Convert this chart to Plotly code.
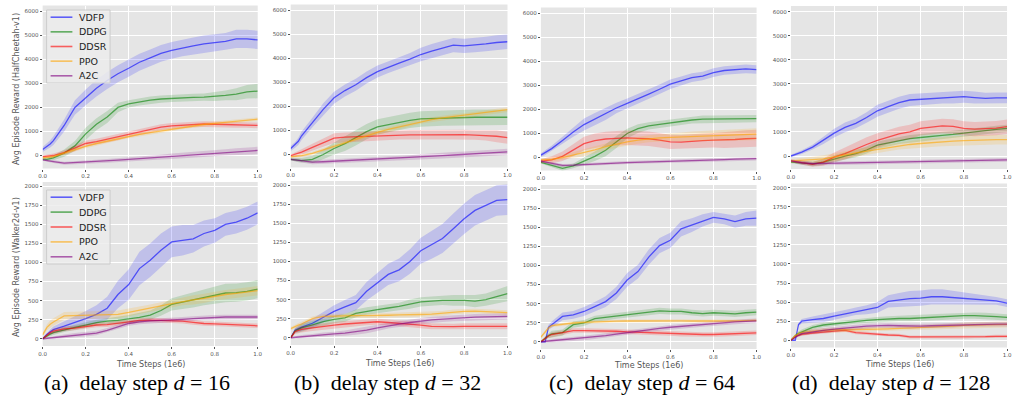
import plotly.graph_objects as go

W, H = 1016, 397

# ---------------- data ----------------
T = [0, .02, .035, .05, .1, .15, .2, .25, .3, .35, .4, .45, .5, .55, .6, .65, .7, .75, .8, .85, .9, .95, 1.0]
X_TICKS = [0, 0.2, 0.4, 0.6, 0.8, 1.0]
X_TICK_TEXT = ["0.0", "0.2", "0.4", "0.6", "0.8", "1.0"]
HC_TICKS = [0, 1000, 2000, 3000, 4000, 5000, 6000]
WK_TICKS = [0, 250, 500, 750, 1000, 1250, 1500, 1750, 2000]
METHODS = ["VDFP", "DDPG", "DDSR", "PPO", "A2C"]
NB = "\u00a0"
CAPTIONS = [f"(a){NB}{NB}delay step <i>d</i>{NB}={NB}16", f"(b){NB}{NB}delay step <i>d</i>{NB}={NB}32",
            f"(c){NB}{NB}delay step <i>d</i>{NB}={NB}64", f"(d){NB}{NB}delay step <i>d</i>{NB}={NB}128"]

# HalfCheetah, d = 16
HC16_VDFP = [250, 380, 480, 620, 1250, 2000, 2420, 2800, 3120, 3400, 3630, 3880, 4060, 4250, 4370, 4480, 4560, 4640, 4680, 4750, 4850, 4850, 4810]
HC16_VDFP_SD = [100, 120, 150, 180, 250, 300, 330, 350, 350, 350, 350, 350, 350, 350, 350, 350, 350, 350, 350, 350, 380, 380, 380]
HC16_DDPG = [-150, -160, -130, -100, 100, 400, 900, 1300, 1600, 2000, 2150, 2230, 2300, 2350, 2380, 2400, 2420, 2430, 2450, 2500, 2550, 2650, 2680]
HC16_DDPG_SD = [50, 60, 80, 100, 150, 200, 250, 250, 250, 200, 150, 150, 150, 150, 150, 150, 150, 150, 180, 200, 250, 280, 300]
HC16_DDSR = [-50, -40, -20, 0, 120, 300, 500, 580, 680, 750, 880, 980, 1060, 1180, 1230, 1260, 1300, 1310, 1300, 1290, 1270, 1280, 1250]
HC16_DDSR_SD = [50, 60, 70, 80, 100, 120, 120, 120, 120, 120, 120, 120, 120, 120, 120, 120, 120, 120, 120, 120, 120, 120, 120]
HC16_PPO = [-100, -80, -60, -50, 100, 250, 380, 500, 600, 700, 800, 880, 950, 1020, 1100, 1170, 1240, 1290, 1340, 1380, 1430, 1480, 1510]
HC16_PPO_SD = [40, 50, 60, 60, 70, 80, 80, 80, 80, 80, 80, 80, 80, 80, 80, 80, 80, 80, 80, 80, 80, 80, 80]
HC16_A2C = [-180, -200, -230, -250, -320, -300, -270, -250, -220, -190, -160, -130, -100, -70, -30, 0, 30, 70, 100, 130, 160, 190, 210]
HC16_A2C_SD = [40, 50, 50, 60, 60, 60, 70, 70, 80, 80, 90, 90, 100, 100, 110, 110, 120, 120, 130, 130, 140, 140, 150]

# HalfCheetah, d = 32
HC32_VDFP = [250, 400, 550, 780, 1330, 1880, 2360, 2660, 2900, 3200, 3450, 3640, 3800, 3970, 4160, 4300, 4440, 4550, 4520, 4550, 4600, 4660, 4690]
HC32_VDFP_SD = [100, 120, 150, 180, 200, 250, 250, 250, 250, 250, 250, 250, 250, 250, 280, 300, 300, 300, 300, 300, 300, 300, 300]
HC32_DDPG = [-200, -220, -240, -250, -200, 0, 250, 450, 700, 950, 1150, 1250, 1350, 1420, 1480, 1500, 1520, 1540, 1550, 1550, 1550, 1550, 1550]
HC32_DDPG_SD = [50, 60, 80, 100, 150, 200, 250, 300, 320, 320, 320, 320, 320, 320, 320, 320, 320, 320, 320, 320, 320, 320, 320]
HC32_DDSR = [-50, 0, 50, 100, 300, 500, 680, 720, 740, 760, 780, 800, 820, 820, 820, 830, 820, 820, 830, 810, 800, 760, 700]
HC32_DDSR_SD = [50, 80, 100, 120, 150, 180, 200, 200, 200, 200, 200, 200, 200, 200, 200, 200, 200, 200, 200, 200, 220, 250, 250]
HC32_PPO = [-100, -80, -60, -50, 50, 200, 350, 500, 650, 800, 920, 1050, 1150, 1270, 1380, 1450, 1520, 1580, 1620, 1680, 1740, 1800, 1870]
HC32_PPO_SD = [40, 50, 60, 60, 70, 80, 100, 100, 100, 100, 100, 100, 100, 100, 100, 100, 100, 100, 100, 100, 100, 100, 100]
HC32_A2C = [-200, -220, -240, -260, -320, -300, -280, -260, -240, -220, -200, -180, -160, -130, -100, -80, -50, -20, 10, 30, 60, 80, 110]
HC32_A2C_SD = [50, 60, 60, 70, 80, 80, 80, 80, 90, 90, 90, 100, 100, 100, 110, 110, 120, 120, 120, 130, 130, 130, 130]

# HalfCheetah, d = 64
HC64_VDFP = [100, 200, 280, 370, 710, 1060, 1370, 1600, 1810, 2060, 2250, 2430, 2640, 2840, 3050, 3190, 3320, 3390, 3530, 3620, 3640, 3690, 3660]
HC64_VDFP_SD = [80, 100, 110, 120, 150, 200, 250, 250, 250, 220, 200, 200, 200, 200, 200, 180, 180, 180, 180, 180, 180, 180, 180]
HC64_DDPG = [-200, -250, -280, -300, -450, -350, -150, 50, 300, 650, 1000, 1200, 1320, 1380, 1450, 1500, 1560, 1600, 1600, 1610, 1600, 1610, 1620]
HC64_DDPG_SD = [50, 60, 80, 80, 100, 100, 150, 200, 250, 250, 200, 180, 150, 150, 150, 150, 150, 150, 150, 150, 150, 150, 150]
HC64_DDSR = [-150, -130, -110, -100, 50, 300, 580, 700, 770, 800, 820, 800, 780, 720, 650, 640, 680, 700, 720, 720, 750, 780, 800]
HC64_DDSR_SD = [80, 100, 120, 150, 200, 250, 280, 300, 300, 300, 300, 300, 300, 300, 300, 300, 300, 300, 300, 320, 340, 350, 350]
HC64_PPO = [-100, -90, -85, -80, 0, 100, 200, 320, 450, 560, 650, 720, 780, 820, 840, 860, 880, 900, 920, 940, 950, 960, 970]
HC64_PPO_SD = [60, 70, 80, 90, 100, 120, 150, 150, 150, 150, 150, 150, 150, 150, 150, 180, 200, 200, 220, 230, 240, 250, 250]
HC64_A2C = [-150, -190, -220, -250, -330, -320, -290, -270, -250, -230, -210, -200, -180, -170, -150, -140, -120, -110, -100, -90, -70, -60, -50]
HC64_A2C_SD = [40, 50, 50, 60, 60, 60, 60, 60, 60, 60, 60, 60, 70, 70, 70, 70, 70, 70, 70, 70, 70, 70, 70]

# HalfCheetah, d = 128
HC128_VDFP = [0, 60, 110, 160, 370, 650, 950, 1190, 1360, 1600, 1880, 2050, 2220, 2330, 2360, 2400, 2430, 2430, 2470, 2430, 2400, 2420, 2420]
HC128_VDFP_SD = [50, 60, 70, 80, 100, 150, 180, 200, 200, 220, 250, 250, 250, 250, 250, 250, 250, 250, 250, 250, 230, 220, 220]
HC128_DDPG = [-250, -270, -290, -300, -330, -250, -120, 0, 100, 250, 450, 550, 650, 720, 770, 830, 860, 900, 960, 1010, 1060, 1110, 1150]
HC128_DDPG_SD = [50, 60, 70, 80, 100, 120, 150, 150, 150, 150, 150, 150, 150, 150, 150, 150, 150, 150, 150, 150, 150, 150, 150]
HC128_DDSR = [-200, -230, -260, -280, -350, -250, -50, 100, 300, 480, 650, 800, 920, 1000, 1150, 1200, 1250, 1230, 1150, 1120, 1140, 1160, 1220]
HC128_DDSR_SD = [50, 60, 70, 80, 100, 150, 200, 250, 280, 300, 300, 300, 300, 300, 300, 300, 300, 300, 300, 300, 300, 300, 300]
HC128_PPO = [-200, -195, -190, -180, -150, -120, -50, 50, 130, 200, 280, 350, 420, 480, 520, 560, 600, 620, 640, 660, 670, 680, 680]
HC128_PPO_SD = [80, 90, 100, 100, 120, 150, 150, 150, 150, 150, 150, 150, 150, 150, 170, 180, 190, 200, 200, 200, 200, 200, 200]
HC128_A2C = [-200, -230, -260, -280, -320, -310, -300, -290, -280, -270, -260, -250, -240, -230, -220, -210, -200, -195, -190, -180, -175, -170, -160]
HC128_A2C_SD = [50, 60, 60, 70, 70, 70, 70, 70, 70, 70, 70, 70, 70, 70, 80, 80, 80, 80, 80, 80, 80, 80, 80]

# Walker2d, d = 16
WK16_VDFP = [0, 60, 90, 120, 165, 210, 265, 320, 400, 580, 710, 920, 1030, 1160, 1270, 1290, 1310, 1380, 1420, 1500, 1530, 1580, 1650]
WK16_VDFP_SD = [10, 20, 30, 40, 60, 80, 100, 120, 150, 180, 200, 220, 220, 220, 200, 200, 180, 170, 160, 150, 150, 150, 150]
WK16_DDPG = [0, 40, 60, 80, 120, 150, 180, 210, 230, 240, 260, 280, 310, 370, 450, 480, 510, 540, 570, 600, 605, 620, 650]
WK16_DDPG_SD = [10, 20, 20, 30, 30, 30, 40, 40, 40, 50, 50, 60, 60, 70, 80, 90, 100, 100, 110, 120, 120, 120, 120]
WK16_DDSR = [0, 50, 80, 100, 130, 140, 160, 180, 185, 200, 220, 240, 245, 240, 235, 230, 215, 200, 195, 190, 185, 180, 170]
WK16_DDSR_SD = [10, 20, 25, 30, 30, 30, 30, 30, 30, 30, 30, 30, 30, 30, 30, 30, 30, 30, 30, 30, 30, 30, 30]
WK16_PPO = [50, 150, 190, 220, 300, 305, 310, 315, 315, 320, 345, 370, 400, 430, 460, 490, 510, 530, 560, 580, 595, 615, 630]
WK16_PPO_SD = [20, 40, 50, 50, 50, 50, 50, 50, 50, 50, 50, 50, 50, 50, 50, 50, 60, 60, 60, 60, 60, 60, 60]
WK16_A2C = [0, 6, 10, 15, 30, 45, 60, 75, 110, 160, 200, 220, 235, 240, 245, 255, 265, 275, 280, 285, 285, 285, 285]
WK16_A2C_SD = [5, 10, 15, 20, 25, 30, 30, 30, 30, 30, 30, 30, 30, 30, 30, 30, 30, 30, 30, 30, 30, 30, 30]

# Walker2d, d = 32
WK32_VDFP = [0, 100, 120, 140, 190, 270, 345, 405, 460, 610, 720, 830, 890, 1000, 1140, 1215, 1300, 1430, 1560, 1670, 1730, 1800, 1810]
WK32_VDFP_SD = [10, 30, 40, 50, 60, 70, 80, 90, 100, 120, 130, 140, 150, 160, 170, 180, 190, 200, 200, 200, 200, 200, 200]
WK32_DDPG = [0, 90, 110, 130, 170, 210, 240, 260, 320, 350, 370, 390, 410, 440, 470, 480, 490, 490, 490, 480, 500, 540, 580]
WK32_DDPG_SD = [10, 30, 40, 50, 50, 50, 50, 50, 50, 50, 50, 50, 50, 60, 60, 60, 60, 70, 70, 80, 80, 90, 100]
WK32_DDSR = [0, 80, 95, 110, 130, 150, 165, 180, 190, 205, 210, 200, 190, 180, 165, 150, 145, 145, 150, 150, 150, 150, 150]
WK32_DDSR_SD = [10, 30, 40, 40, 40, 40, 40, 40, 40, 40, 40, 40, 40, 40, 40, 40, 40, 40, 40, 40, 40, 40, 40]
WK32_PPO = [120, 150, 165, 180, 250, 280, 285, 285, 290, 290, 290, 295, 300, 300, 305, 310, 320, 340, 345, 350, 345, 335, 330]
WK32_PPO_SD = [20, 25, 30, 30, 30, 30, 30, 30, 30, 30, 30, 30, 30, 30, 30, 30, 30, 30, 30, 30, 30, 30, 30]
WK32_A2C = [0, 6, 10, 15, 25, 40, 50, 60, 80, 100, 130, 160, 180, 200, 220, 235, 245, 255, 265, 270, 275, 275, 280]
WK32_A2C_SD = [5, 10, 15, 20, 25, 30, 30, 35, 40, 40, 40, 40, 40, 40, 40, 40, 40, 40, 40, 40, 40, 40, 40]

# Walker2d, d = 64
WK64_VDFP = [0, 0, 190, 224, 332, 353, 397, 461, 526, 640, 810, 920, 1110, 1260, 1330, 1480, 1530, 1590, 1630, 1610, 1575, 1610, 1620]
WK64_VDFP_SD = [5, 5, 30, 40, 50, 50, 60, 60, 70, 80, 90, 90, 100, 100, 100, 100, 90, 80, 70, 70, 80, 90, 100]
WK64_DDPG = [0, 50, 80, 103, 120, 224, 246, 302, 319, 340, 353, 375, 388, 405, 397, 397, 380, 370, 380, 375, 366, 380, 388]
WK64_DDPG_SD = [5, 20, 30, 40, 40, 40, 40, 40, 40, 40, 40, 40, 40, 40, 40, 40, 40, 40, 40, 40, 40, 40, 40]
WK64_DDSR = [0, 50, 75, 95, 117, 147, 147, 147, 143, 138, 130, 125, 121, 117, 108, 99, 95, 95, 95, 99, 103, 108, 117]
WK64_DDSR_SD = [5, 20, 25, 30, 30, 30, 30, 30, 30, 30, 30, 30, 30, 30, 30, 30, 30, 30, 30, 30, 30, 30, 30]
WK64_PPO = [60, 130, 180, 211, 233, 246, 255, 262, 267, 270, 272, 274, 276, 276, 276, 274, 272, 270, 267, 268, 272, 276, 280]
WK64_PPO_SD = [20, 20, 20, 20, 20, 20, 20, 20, 20, 20, 20, 20, 20, 20, 20, 20, 20, 20, 20, 20, 20, 20, 20]
WK64_A2C = [0, 5, 10, 15, 25, 38, 50, 65, 80, 100, 120, 140, 160, 175, 190, 203, 215, 228, 240, 250, 260, 268, 275]
WK64_A2C_SD = [5, 10, 15, 20, 25, 30, 30, 30, 30, 30, 30, 30, 30, 30, 30, 30, 30, 30, 30, 30, 30, 30, 30]

# Walker2d, d = 128
WK128_VDFP = [0, 0, 207, 250, 270, 285, 315, 345, 380, 400, 430, 510, 530, 547, 552, 570, 570, 560, 552, 540, 530, 517, 487]
WK128_VDFP_SD = [5, 5, 20, 30, 40, 50, 50, 50, 50, 60, 70, 80, 90, 100, 100, 100, 100, 90, 80, 70, 60, 50, 50]
WK128_DDPG = [0, 60, 90, 110, 170, 200, 215, 230, 250, 260, 270, 280, 285, 285, 293, 300, 306, 310, 323, 323, 320, 310, 300]
WK128_DDPG_SD = [5, 20, 25, 30, 30, 30, 30, 30, 30, 30, 35, 35, 35, 35, 40, 40, 40, 40, 40, 40, 40, 40, 40]
WK128_DDSR = [0, 50, 65, 78, 95, 112, 120, 130, 100, 90, 78, 69, 65, 43, 43, 43, 47, 43, 39, 47, 47, 52, 52]
WK128_DDSR_SD = [5, 15, 20, 20, 20, 20, 20, 20, 20, 20, 20, 20, 20, 20, 20, 20, 20, 20, 20, 20, 20, 20, 20]
WK128_PPO = [0, 60, 85, 100, 120, 130, 138, 138, 138, 142, 147, 150, 155, 160, 164, 172, 177, 185, 194, 198, 203, 207, 207]
WK128_PPO_SD = [10, 20, 30, 30, 30, 30, 30, 30, 30, 30, 30, 30, 30, 30, 30, 30, 35, 35, 40, 40, 40, 40, 40]
WK128_A2C = [0, 40, 65, 86, 112, 130, 147, 155, 172, 185, 194, 194, 190, 185, 185, 190, 194, 198, 207, 211, 211, 211, 211]
WK128_A2C_SD = [5, 15, 20, 25, 30, 30, 30, 30, 30, 30, 30, 30, 30, 30, 30, 30, 30, 30, 30, 30, 30, 30, 30]

PANELS = [
    [(HC16_VDFP, HC16_VDFP_SD), (HC16_DDPG, HC16_DDPG_SD), (HC16_DDSR, HC16_DDSR_SD), (HC16_PPO, HC16_PPO_SD), (HC16_A2C, HC16_A2C_SD)],
    [(HC32_VDFP, HC32_VDFP_SD), (HC32_DDPG, HC32_DDPG_SD), (HC32_DDSR, HC32_DDSR_SD), (HC32_PPO, HC32_PPO_SD), (HC32_A2C, HC32_A2C_SD)],
    [(HC64_VDFP, HC64_VDFP_SD), (HC64_DDPG, HC64_DDPG_SD), (HC64_DDSR, HC64_DDSR_SD), (HC64_PPO, HC64_PPO_SD), (HC64_A2C, HC64_A2C_SD)],
    [(HC128_VDFP, HC128_VDFP_SD), (HC128_DDPG, HC128_DDPG_SD), (HC128_DDSR, HC128_DDSR_SD), (HC128_PPO, HC128_PPO_SD), (HC128_A2C, HC128_A2C_SD)],
    [(WK16_VDFP, WK16_VDFP_SD), (WK16_DDPG, WK16_DDPG_SD), (WK16_DDSR, WK16_DDSR_SD), (WK16_PPO, WK16_PPO_SD), (WK16_A2C, WK16_A2C_SD)],
    [(WK32_VDFP, WK32_VDFP_SD), (WK32_DDPG, WK32_DDPG_SD), (WK32_DDSR, WK32_DDSR_SD), (WK32_PPO, WK32_PPO_SD), (WK32_A2C, WK32_A2C_SD)],
    [(WK64_VDFP, WK64_VDFP_SD), (WK64_DDPG, WK64_DDPG_SD), (WK64_DDSR, WK64_DDSR_SD), (WK64_PPO, WK64_PPO_SD), (WK64_A2C, WK64_A2C_SD)],
    [(WK128_VDFP, WK128_VDFP_SD), (WK128_DDPG, WK128_DDPG_SD), (WK128_DDSR, WK128_DDSR_SD), (WK128_PPO, WK128_PPO_SD), (WK128_A2C, WK128_A2C_SD)],
]

# ---------------- style ----------------
RGB = {"VDFP": (0, 0, 255), "DDPG": (0, 128, 0), "DDSR": (255, 0, 0), "PPO": (255, 165, 0), "A2C": (128, 0, 128)}
LINE_A, BAND_A = 0.6, 0.16
BG = "#E5E5E5"
TICK_C = "#555555"
TICK_FONT = dict(family="DejaVu Sans", size=5.5, color=TICK_C)

X_PX = [(39, 256), (289.3, 508), (541.7, 759.3), (794, 1012)]
ROW_PX = [(5.5, 168.5), (182, 346)]
ROW_SHIFT = [[0, -1, 2, 0.5], [0, -1, 3, 1.5]]
Y_RANGES = [(-540, 6240), (-95, 2055)]
LEGEND_BOX_PX = [(43, 10, 107, 83), (43, 190, 107, 264)]


def px_x(a):
    return a / W


def px_y(a):
    return 1 - a / H


fig = go.Figure()
layout = dict(
    width=W, height=H, margin=dict(l=0, r=0, t=0, b=0),
    paper_bgcolor="white", plot_bgcolor=BG, annotations=[], shapes=[], showlegend=False,
)

for p in range(8):
    row, col = divmod(p, 4)
    idx = p + 1
    xa = "x" if idx == 1 else f"x{idx}"
    ya = "y" if idx == 1 else f"y{idx}"
    xkey = "xaxis" if idx == 1 else f"xaxis{idx}"
    ykey = "yaxis" if idx == 1 else f"yaxis{idx}"
    top, bot = ROW_PX[row]
    sh = ROW_SHIFT[row][col]
    x0, x1 = X_PX[col]
    layout[xkey] = dict(
        domain=[px_x(x0), px_x(x1)], range=[0, 1], anchor=ya,
        tickvals=X_TICKS, ticktext=X_TICK_TEXT, tickfont=TICK_FONT,
        showgrid=True, gridcolor="white", gridwidth=1, zeroline=False, showline=False,
        ticks="outside", ticklen=2, tickwidth=0.8, tickcolor=TICK_C, fixedrange=True,
    )
    yt = HC_TICKS if row == 0 else WK_TICKS
    layout[ykey] = dict(
        domain=[px_y(bot + sh), px_y(top + sh)], range=list(Y_RANGES[row]), anchor=xa,
        tickvals=yt, ticktext=[str(v) for v in yt], tickfont=TICK_FONT,
        showgrid=True, gridcolor="white", gridwidth=1, zeroline=False, showline=False,
        ticks="outside", ticklen=2, tickwidth=0.8, tickcolor=TICK_C, fixedrange=True,
    )
    for (mean, sd), name in zip(PANELS[p], METHODS):
        r, g, b = RGB[name]
        upper = [m + s for m, s in zip(mean, sd)]
        lower = [m - s for m, s in zip(mean, sd)]
        fig.add_trace(go.Scatter(
            x=T + T[::-1], y=upper + lower[::-1], xaxis=xa, yaxis=ya,
            fill="toself", fillcolor=f"rgba({r},{g},{b},{BAND_A})",
            line=dict(width=0), mode="lines", showlegend=False, hoverinfo="skip",
        ))
        fig.add_trace(go.Scatter(
            x=T, y=mean, xaxis=xa, yaxis=ya, mode="lines", name=name,
            line=dict(color=f"rgba({r},{g},{b},{LINE_A})", width=1.3),
            showlegend=False,
        ))

    if row == 1:
        cx = (x0 + x1) / 2
        layout["annotations"].append(dict(
            text="Time Steps (1e6)", x=px_x(cx), y=px_y(364 + sh * 0.5), xref="paper", yref="paper",
            showarrow=False, xanchor="center", yanchor="middle",
            font=dict(family="DejaVu Sans", size=8, color=TICK_C),
        ))

# legends (drawn as boxes with line samples and text labels)
for (lx0, ly0, lx1, ly1) in LEGEND_BOX_PX:
    layout["shapes"].append(dict(
        type="rect", xref="paper", yref="paper", layer="above",
        x0=px_x(lx0), x1=px_x(lx1), y0=px_y(ly1), y1=px_y(ly0),
        fillcolor="rgba(236,236,236,0.85)", line=dict(color="#CCCCCC", width=1),
    ))
    step = (ly1 - ly0 - 14.4) / 4
    for i, name in enumerate(METHODS):
        r, g, b = RGB[name]
        yy = ly0 + 7.2 + i * step
        layout["shapes"].append(dict(
            type="line", xref="paper", yref="paper", layer="above",
            x0=px_x(lx0 + 4), x1=px_x(lx0 + 26), y0=px_y(yy), y1=px_y(yy),
            line=dict(color=f"rgba({r},{g},{b},{LINE_A})", width=1.6),
        ))
        layout["annotations"].append(dict(
            text=name, x=px_x(lx0 + 31), y=px_y(yy), xref="paper", yref="paper",
            showarrow=False, xanchor="left", yanchor="middle",
            font=dict(family="DejaVu Sans", size=9.5, color="#222222"),
        ))

CAP_X = [134, 387, 644, 895]
for cx, cap in zip(CAP_X, CAPTIONS):
    layout["annotations"].append(dict(
        text=cap, x=px_x(cx), y=px_y(382), xref="paper", yref="paper",
        showarrow=False, xanchor="center", yanchor="middle",
        font=dict(family="Liberation Serif", size=22, color="black"),
    ))

for txt, cy in [("Avg Episode Reward (HalfCheetah-v1)", 89), ("Avg Episode Reward (Walker2d-v1)", 267)]:
    layout["annotations"].append(dict(
        text=txt, x=px_x(12), y=px_y(cy), xref="paper", yref="paper", textangle=-90,
        showarrow=False, xanchor="center", yanchor="middle",
        font=dict(family="DejaVu Sans", size=8, color=TICK_C),
    ))

fig.update_layout(**layout)
fig.write_html("out.html", config={"displayModeBar": False},
               post_script="document.body.style.margin='0px';")
